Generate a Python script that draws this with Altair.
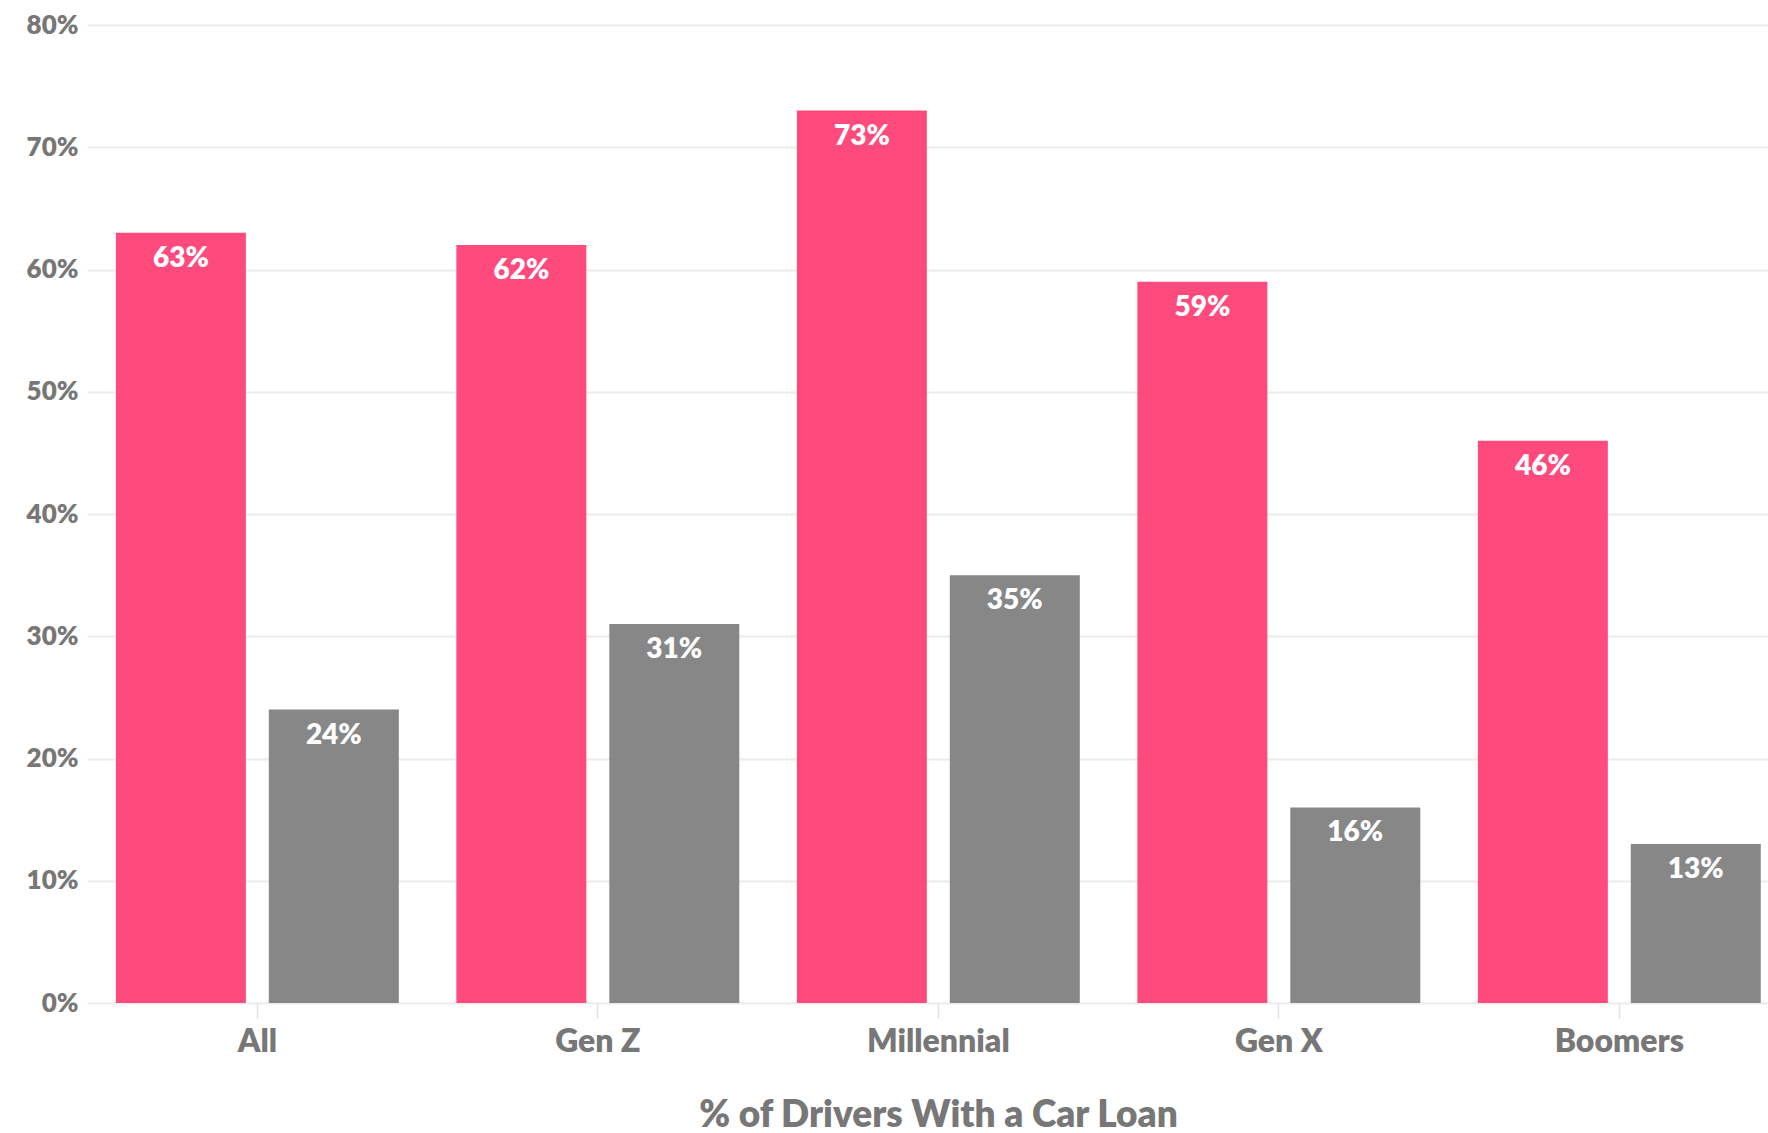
import altair as alt
import pandas as pd

# Share of drivers with a car loan, by generation
categories = ["All", "Gen Z", "Millennial", "Gen X", "Boomers"]
series = ["Group A", "Group B"]
group_a_values = [63, 62, 73, 59, 46]
group_b_values = [24, 31, 35, 16, 13]
y_ticks = [0, 10, 20, 30, 40, 50, 60, 70, 80]

PINK = "#ff4a7d"
GRAY = "#878787"
TEXT_GRAY = "#777777"
FONT = "Lato"
WEIGHT = 800

rows = []
for cat, a, b in zip(categories, group_a_values, group_b_values):
    rows.append({"generation": cat, "series": series[0], "pct": a, "label": f"{a}%"})
    rows.append({"generation": cat, "series": series[1], "pct": b, "label": f"{b}%"})
df = pd.DataFrame(rows)

x_enc = alt.X(
    "generation:N",
    sort=categories,
    scale=alt.Scale(paddingInner=0.169, paddingOuter=0.053, align=0.8),
    axis=alt.Axis(
        title="% of Drivers With a Car Loan",
        titleFont=FONT,
        titleFontSize=37,
        titleFontWeight=WEIGHT,
        titleColor=TEXT_GRAY,
        titleX=851,
        titleY=123,
        titleBaseline="alphabetic",
        titleAlign="center",
        labelFont=FONT,
        labelFontSize=32,
        labelFontWeight=WEIGHT,
        labelColor=TEXT_GRAY,
        labelAngle=0,
        labelBaseline="alphabetic",
        labelPadding=33,
        tickSize=15,
        tickColor="#e2e2e2",
        tickWidth=1.5,
        domain=False,
        grid=False,
    ),
)
xoff_enc = alt.XOffset(
    "series:N",
    sort=series,
    scale=alt.Scale(paddingInner=0.15, paddingOuter=0),
)
y_enc = alt.Y(
    "pct:Q",
    scale=alt.Scale(domain=[0, 80], nice=False),
    axis=alt.Axis(
        title=None,
        values=y_ticks,
        labelExpr="datum.value + '%'",
        labelFont=FONT,
        labelFontSize=26,
        labelFontWeight=WEIGHT,
        labelColor=TEXT_GRAY,
        labelPadding=9,
        ticks=False,
        domain=False,
        grid=True,
        gridColor="#ececec",
        gridWidth=2,
    ),
)

bars = alt.Chart(df).mark_bar().encode(
    x=x_enc,
    xOffset=xoff_enc,
    y=y_enc,
    color=alt.Color(
        "series:N",
        scale=alt.Scale(domain=series, range=[PINK, GRAY]),
        legend=None,
    ),
)

labels = alt.Chart(df).mark_text(
    baseline="alphabetic",
    align="center",
    dy=34,
    color="white",
    font=FONT,
    fontSize=28,
    fontWeight=WEIGHT,
).encode(
    x=x_enc,
    xOffset=xoff_enc,
    y=y_enc,
    text="label:N",
)

chart = (
    alt.layer(bars, labels)
    .properties(
        width=1681,
        height=978,
        autosize=alt.AutoSizeParams(type="none"),
        padding={"left": 87, "top": 25, "right": 0, "bottom": 130},
        background="white",
    )
    .configure_view(stroke=None)
)

chart.save("out.html", embed_options={"renderer": "svg", "actions": False})
